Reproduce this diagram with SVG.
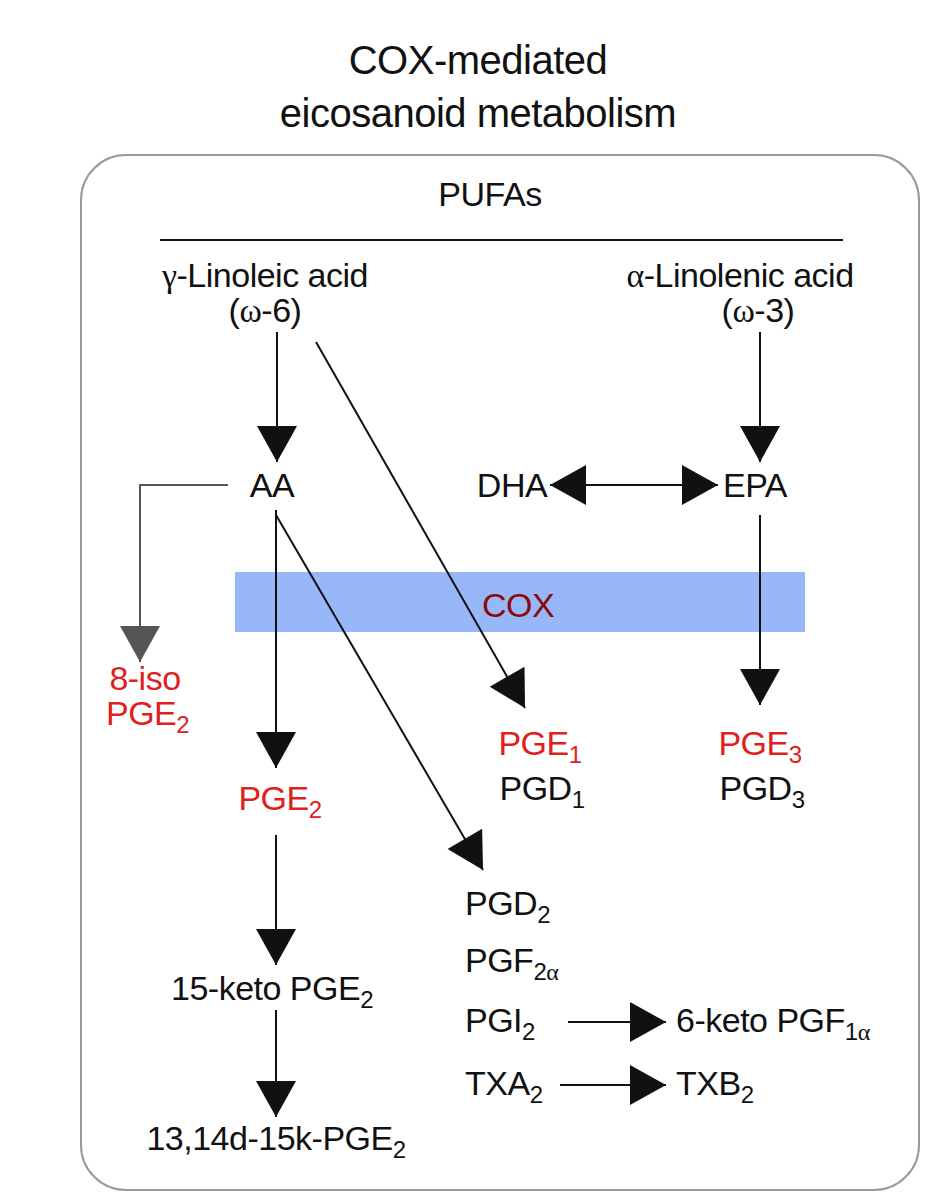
<svg xmlns="http://www.w3.org/2000/svg" width="952" height="1197" viewBox="0 0 952 1197">
<style>
text{font-family:"Liberation Sans",Arial,sans-serif;font-size:34px;fill:#111;letter-spacing:-0.5px}
.r{fill:#e0201c}
.c{stroke:#111;stroke-width:2;fill:none}
.g{stroke:#555;stroke-width:2;fill:none}
tspan.s{font-size:24px}
tspan.gk{font-family:"Liberation Serif","Times New Roman",serif}
</style>
<defs>
<marker id="a" markerUnits="userSpaceOnUse" markerWidth="40" markerHeight="40" viewBox="0 0 36 40" refX="36" refY="20" orient="auto-start-reverse"><path d="M0,0 L36,20 L0,40 Z" fill="#111"/></marker>
<marker id="ag" markerUnits="userSpaceOnUse" markerWidth="40" markerHeight="40" viewBox="0 0 36 40" refX="36" refY="20" orient="auto"><path d="M0,0 L36,20 L0,40 Z" fill="#555"/></marker>
</defs>
<rect width="952" height="1197" fill="#fff"/>
<text x="478" y="74" text-anchor="middle" style="font-size:40px">COX-mediated</text>
<text x="478" y="127" text-anchor="middle" style="font-size:40px">eicosanoid metabolism</text>
<rect x="81" y="155" width="838" height="1035" rx="45" fill="none" stroke="#999" stroke-width="2"/>
<rect id="cox" x="235" y="572" width="570" height="60" fill="#98b7f8"/>
<g id="connectors">
<line x1="160" y1="240" x2="843" y2="240" stroke="#111" stroke-width="2"/>
<line class="c" x1="277" y1="332" x2="277" y2="462" marker-end="url(#a)"/>
<line class="c" x1="760" y1="332" x2="760" y2="462" marker-end="url(#a)"/>
<line class="c" x1="316" y1="342" x2="525" y2="708" marker-end="url(#a)"/>
<line class="c" x1="550" y1="485" x2="718" y2="485" marker-start="url(#a)" marker-end="url(#a)"/>
<polyline class="g" points="228,485 140,485 140,662" marker-end="url(#ag)"/>
<line class="c" x1="276" y1="510" x2="276" y2="768" marker-end="url(#a)"/>
<line class="c" x1="276" y1="515" x2="483" y2="870" marker-end="url(#a)"/>
<line class="c" x1="760" y1="515" x2="760" y2="705" marker-end="url(#a)"/>
<line class="c" x1="276" y1="835" x2="276" y2="965" marker-end="url(#a)"/>
<line class="c" x1="276" y1="1010" x2="276" y2="1117" marker-end="url(#a)"/>
<line class="c" x1="568" y1="1022" x2="666" y2="1022" marker-end="url(#a)"/>
<line class="c" x1="560" y1="1085" x2="666" y2="1085" marker-end="url(#a)"/>
</g>
<g id="n-pufa"><text x="490" y="206" text-anchor="middle">PUFAs</text></g>
<g id="n-la"><text x="265" y="287" text-anchor="middle"><tspan class="gk">γ</tspan>-Linoleic acid</text><text x="265" y="322" text-anchor="middle">(<tspan class="gk">ω</tspan>-6)</text></g>
<g id="n-ala"><text x="740" y="287" text-anchor="middle"><tspan class="gk">α</tspan>-Linolenic acid</text><text x="758" y="322" text-anchor="middle">(<tspan class="gk">ω</tspan>-3)</text></g>
<g id="n-aa"><text x="272" y="497" text-anchor="middle">AA</text></g>
<g id="n-dha"><text x="512" y="497" text-anchor="middle">DHA</text></g>
<g id="n-epa"><text x="755" y="497" text-anchor="middle">EPA</text></g>
<g id="n-coxl"><text x="518" y="617" text-anchor="middle" style="fill:#8b0a0a">COX</text></g>
<g id="n-iso"><text class="r" x="145" y="690" text-anchor="middle">8-iso</text><text class="r" x="106" y="725">PGE<tspan class="s" dy="8">2</tspan></text></g>
<g id="n-pge1"><text x="540" y="755" text-anchor="middle" class="r">PGE<tspan class="s" dy="8">1</tspan></text><text x="542" y="800" text-anchor="middle">PGD<tspan class="s" dy="8">1</tspan></text></g>
<g id="n-pge3"><text x="760" y="755" text-anchor="middle" class="r">PGE<tspan class="s" dy="8">3</tspan></text><text x="762" y="800" text-anchor="middle">PGD<tspan class="s" dy="8">3</tspan></text></g>
<g id="n-pge2"><text x="280" y="810" text-anchor="middle" class="r">PGE<tspan class="s" dy="8">2</tspan></text></g>
<g id="n-keto"><text x="272" y="1000" text-anchor="middle">15-keto PGE<tspan class="s" dy="8">2</tspan></text></g>
<g id="n-dk"><text x="276" y="1150" text-anchor="middle">13,14d-15k-PGE<tspan class="s" dy="8">2</tspan></text></g>
<g id="n-pgd2"><text x="465" y="915">PGD<tspan class="s" dy="8">2</tspan></text></g>
<g id="n-pgf2"><text x="465" y="972">PGF<tspan class="s" dy="8">2<tspan class="gk">α</tspan></tspan></text></g>
<g id="n-pgi2"><text x="465" y="1032">PGI<tspan class="s" dy="8">2</tspan></text></g>
<g id="n-txa2"><text x="465" y="1095">TXA<tspan class="s" dy="8">2</tspan></text></g>
<g id="n-6k"><text x="676" y="1032">6-keto PGF<tspan class="s" dy="8">1<tspan class="gk">α</tspan></tspan></text></g>
<g id="n-txb2"><text x="676" y="1095">TXB<tspan class="s" dy="8">2</tspan></text></g>
</svg>
